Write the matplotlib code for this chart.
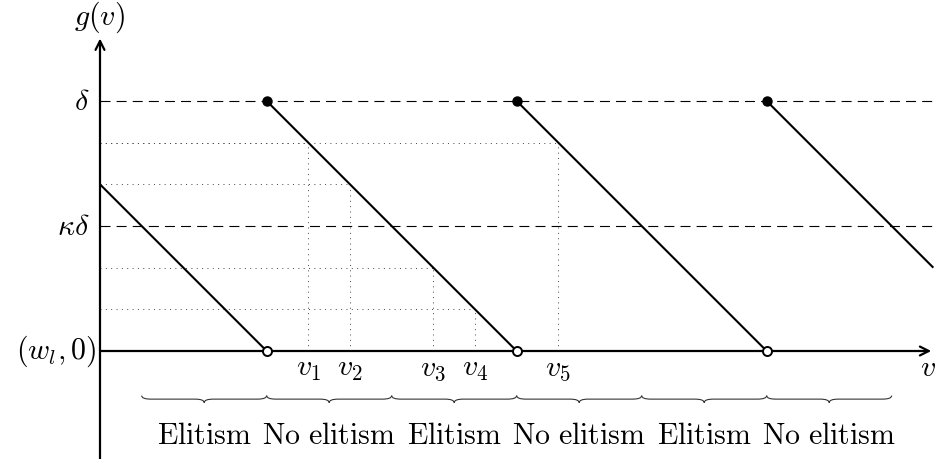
import numpy as np
from matplotlib import pyplot as plt
from matplotlib.path import Path
from matplotlib.patches import PathPatch

plt.rcParams['mathtext.fontset'] = 'cm'

# data (in the diagram's own units)
delta = 6
kappa_delta = 3
seg_x0 = [0, 4, 10, 16]
seg_y0 = [4, 6, 6, 6]
seg_x1 = [4, 10, 16, 20]
seg_y1 = [0, 0, 0, 2]
jumps = [4, 10, 16]
v_x = [5, 6, 8, 9, 11]
v_y = [5, 4, 2, 1, 5]
v_labels = [r'$v_1$', r'$v_2$', r'$v_3$', r'$v_4$', r'$v_5$']
brace_edges = [1, 4, 7, 10, 13, 16, 19]
brace_labels = ['Elitism', 'No elitism', 'Elitism', 'No elitism', 'Elitism', 'No elitism']
x_end = 20
y_top = 7.5

FS = 21.5
unit = 250 / 6  # pixels per unit

fig = plt.figure(figsize=(9.39, 4.59), dpi=100)
ax = fig.add_axes([0, 0, 1, 1])
ax.set_xlim(-100 / unit, (939 - 100) / unit)
ax.set_ylim(-(459 - 351) / unit, 351 / unit)
ax.axis('off')

# dashed reference levels
for yy in [delta, kappa_delta]:
    ax.plot([0, x_end], [yy, yy], color='black', lw=0.8, ls=(0, (9, 5.5)), zorder=1)

# dotted guides
for vx, vy in zip(v_x, v_y):
    ax.plot([0, vx], [vy, vy], color='#444444', lw=0.7, ls=(0, (1, 4.5)), zorder=1)
    ax.plot([vx, vx], [0, vy], color='#444444', lw=0.7, ls=(0, (1, 4.5)), zorder=1)

# axes with arrows
ax.annotate('', xy=(x_end - 0.05, 0), xytext=(0, 0),
            arrowprops=dict(arrowstyle='->', lw=1.6, color='black', shrinkA=0, shrinkB=0,
                            mutation_scale=16), zorder=3)
ax.annotate('', xy=(0, y_top), xytext=(0, -3),
            arrowprops=dict(arrowstyle='->', lw=1.6, color='black', shrinkA=0, shrinkB=0,
                            mutation_scale=16), zorder=3)

# sawtooth segments
for x0, y0, x1, y1 in zip(seg_x0, seg_y0, seg_x1, seg_y1):
    ax.plot([x0, x1], [y0, y1], color='black', lw=1.5, solid_capstyle='butt', zorder=2)

ax.plot(jumps, [delta] * len(jumps), 'o', color='black', ms=6.5, zorder=5)
ax.plot(jumps, [0] * len(jumps), 'o', mfc='white', mec='black', ms=6.5, mew=1.4, zorder=5)

# labels
ax.text(-0.25, delta, r'$\delta$', ha='right', va='center', fontsize=FS)
ax.text(-0.25, kappa_delta, r'$\kappa\delta$', ha='right', va='center', fontsize=FS)
ax.text(-0.1, 0, r'$(w_l,0)$', ha='right', va='center', fontsize=FS)
ax.text(0, 351 / unit - 17 / unit, r'$g(v)$', ha='center', va='center', fontsize=FS)
ax.text((928 - 100) / unit, -17 / unit, r'$v$', ha='center', va='center', fontsize=FS)
for vx, lab in zip(v_x, v_labels):
    ax.text(vx, -0.08, lab, ha='center', va='top', fontsize=FS)


def brace(x0, x1, y, amp=0.17, q=0.22):
    xm = (x0 + x1) / 2
    h = amp / 2
    verts = [(x0, y), (x0, y - h), (x0 + q, y - h),
             (xm - q, y - h), (xm, y - h), (xm, y - amp),
             (xm, y - h), (xm + q, y - h),
             (x1 - q, y - h), (x1, y - h), (x1, y)]
    codes = [Path.MOVETO, Path.CURVE3, Path.CURVE3,
             Path.LINETO, Path.CURVE3, Path.CURVE3,
             Path.CURVE3, Path.CURVE3,
             Path.LINETO, Path.CURVE3, Path.CURVE3]
    ax.add_patch(PathPatch(Path(verts, codes), fill=False, lw=0.8, ec='#333333'))


for a, b, lab in zip(brace_edges[:-1], brace_edges[1:], brace_labels):
    brace(a, b, -1.07)
    ax.text((a + b) / 2, -2.02, r'$\mathrm{' + lab.replace(' ', r'\ ') + '}$',
            ha='center', va='center', fontsize=FS)

fig.savefig('out.png', dpi=100)
